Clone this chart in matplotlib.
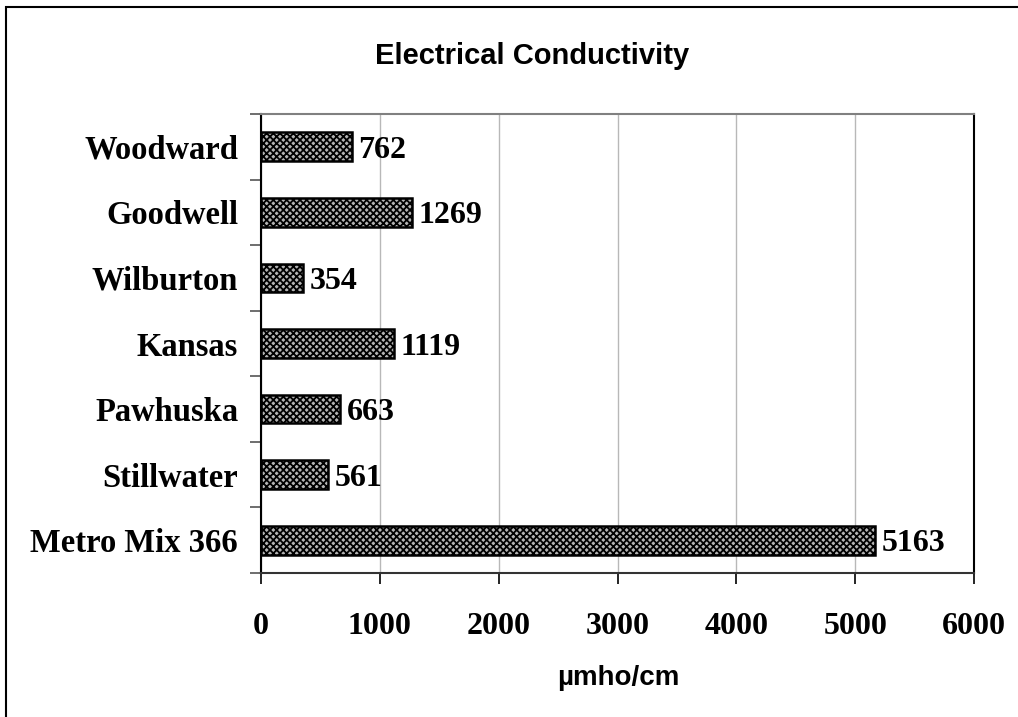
import matplotlib
matplotlib.use("Agg")
import matplotlib.pyplot as plt
from matplotlib.patches import Rectangle

sites = ["Metro Mix 366", "Stillwater", "Pawhuska", "Kansas", "Wilburton", "Goodwell", "Woodward"]
ec_values = [5163, 561, 663, 1119, 354, 1269, 762]
x_ticks = [0, 1000, 2000, 3000, 4000, 5000, 6000]

serif = "Liberation Serif"
sans = "Liberation Sans"
plt.rcParams["hatch.linewidth"] = 1.3
plt.rcParams["hatch.color"] = "#111111"

fig = plt.figure(figsize=(10.18, 7.17), dpi=100)
ax = fig.add_axes([261 / 1018, 144 / 717, 713 / 1018, 459 / 717])

pos = list(range(len(sites)))
ax.barh(pos, ec_values, height=0.44, facecolor="#b4b4b4", edgecolor="black",
        linewidth=1.8, hatch="xxxxx", zorder=3)

for p, v in zip(pos, ec_values):
    ax.annotate(str(v), (v, p), xytext=(5, 0), textcoords="offset points",
                va="center_baseline", ha="left", fontsize=23, fontweight="bold", family=serif)

ax.set_xlim(0, 6000)
ax.set_ylim(-0.5, len(sites) - 0.5)
ax.set_xticks(x_ticks)
ax.set_xticklabels([str(t) for t in x_ticks], fontsize=23, fontweight="bold", family=serif)
ax.set_yticks(pos)
ax.set_yticklabels(sites, fontsize=23.5, fontweight="bold", family=serif)
for lab in ax.get_yticklabels():
    lab.set_verticalalignment("center_baseline")
ax.set_yticks([p - 0.5 for p in range(len(sites) + 1)], minor=True)
ax.tick_params(axis="y", which="major", length=0, pad=16.5)
ax.tick_params(axis="y", which="minor", length=8, width=1.2, color="#555555", direction="out")
ax.tick_params(axis="x", length=8, width=1.2, color="black", direction="out", pad=20)

ax.grid(axis="x", color="#b8b8b8", linewidth=1, zorder=0)
ax.spines["left"].set_color("black")
ax.spines["left"].set_linewidth(1.5)
ax.spines["bottom"].set_color("#333333")
ax.spines["bottom"].set_linewidth(1.5)
ax.spines["right"].set_color("black")
ax.spines["right"].set_linewidth(1.5)
ax.spines["top"].set_color("#808080")
ax.spines["top"].set_linewidth(1.5)

fig.text(532 / 1018, 1 - 56 / 717, "Electrical Conductivity", ha="center", va="center",
         fontsize=21, fontweight="bold", family=sans)
fig.text(618 / 1018, 1 - 678 / 717, "µmho/cm", ha="center", va="center",
         fontsize=20, fontweight="bold", family=sans)

# outer chart border, right and bottom edges run off the canvas
fig.patches.append(Rectangle((6 / 1018, -0.1), 1.2, 1.1 - 7 / 717, transform=fig.transFigure,
                             fill=False, edgecolor="black", linewidth=1.5))

fig.savefig("out.png", dpi=100, facecolor="white")
